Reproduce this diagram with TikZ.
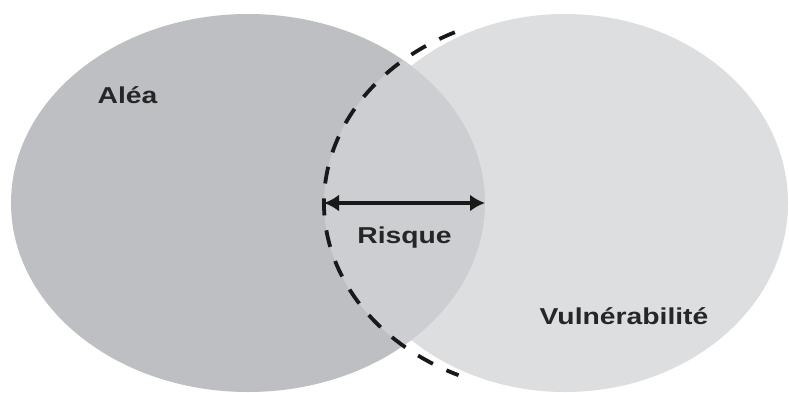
\documentclass[tikz,border=0pt]{standalone}
\usepackage{fontspec}
\setmainfont{Liberation Sans}
\usetikzlibrary{shapes.geometric,arrows.meta}

\definecolor{aleagray}{HTML}{BEBFC2}
\definecolor{vulngray}{HTML}{DDDEE0}
\definecolor{risquegray}{HTML}{CDCED1}
\definecolor{inkgray}{HTML}{262626}

\tikzset{
  blob/.style={ellipse, inner sep=0pt, outer sep=0pt},
  rimline/.style={draw=black!90, line width=3.8pt, dash pattern=on 17pt off 15pt},
  spanarrow/.style={draw=black!90, line width=3.2pt, {Latex[length=15pt,width=17pt]}-{Latex[length=15pt,width=17pt]}},
  tag/.style={anchor=base, inner sep=0pt, text=inkgray, font=\fontsize{23}{27}\selectfont\bfseries}
}

\begin{document}
\begin{tikzpicture}[x=1pt, y=1pt]
  \useasboundingbox[fill=white] (0,0) rectangle (789,392);

  % the two sets
  \node[blob, fill=aleagray, minimum width=474pt, minimum height=378pt] (alea) at (248,189) {};
  \node[blob, fill=vulngray, minimum width=446pt, minimum height=378pt] (vuln) at (565,189) {};
  % outline of the vulnerability zone, used for the overlap and the dashed rim
  \node[blob, minimum width=466pt, minimum height=380pt] (rim) at (557,189) {};

  % overlap of hazard and vulnerability
  \begin{scope}
    \clip (248,189) ellipse [x radius=237pt, y radius=189pt];
    \fill[risquegray] (557,189) ellipse [x radius=233pt, y radius=190pt];
  \end{scope}

  % dashed rim of the vulnerability zone
  \draw[rimline] (rim.center) ++(116:233pt and 190pt)
    arc[start angle=116, end angle=245, x radius=233pt, y radius=190pt];

  % extent of the risk
  \draw[spanarrow] (rim.west) -- (alea.east);

  % labels
  \node[tag] (talea) at (127.5,289) {\scalebox{1.23}[1]{Aléa}};
  \node[tag] (trisque) at (404.5,149) {\scalebox{1.23}[1]{Risque}};
  \node[tag] (tvuln) at (624,68) {\scalebox{1.23}[1]{Vulnérabilité}};
\end{tikzpicture}
\end{document}
